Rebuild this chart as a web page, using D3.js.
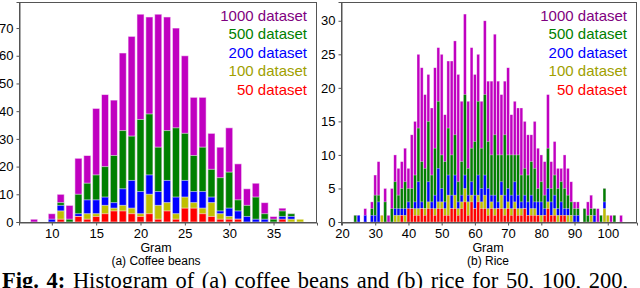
<!DOCTYPE html>
<html>
<head>
<meta charset="utf-8">
<script src="https://cdn.jsdelivr.net/npm/d3@7"></script>
<style>
  body { margin: 0; background: #fff; }
  svg { display: block; }
  text { font-family: "Liberation Sans", Arial, sans-serif; }
</style>
</head>
<body>
<div id="chart"></div>
<script>
// dataset names, drawn back to front (largest first)
var seriesNames = ["1000 dataset", "500 dataset", "200 dataset", "100 dataset", "50 dataset"];
var seriesFill = ["#c000c0", "#008000", "#0000ff", "#bfbf00", "#ff0000"];
var seriesText = ["#800080", "#008000", "#0000ff", "#a0a000", "#ff0000"];

// (a) coffee beans, gram bins 8..38
var coffeeGram = d3.range(8, 39);
var coffee1000 = [1, 0, 3, 10, 6, 23, 24, 41, 46, 44, 61, 67, 75, 74, 75, 74, 70, 60, 45, 45, 32, 27, 34, 21, 12, 14, 7, 2, 5, 3, 0];
var coffee500  = [0, 0, 0, 7, 1, 10, 14, 17, 20, 24, 33, 31, 37, 39, 27, 33, 34, 32, 24, 27, 19, 16, 18, 8, 6, 9, 3, 1, 4, 3, 0];
var coffee200  = [0, 0, 1, 6, 0, 3, 8, 8, 9, 7, 12, 15, 11, 17, 11, 15, 9, 15, 11, 11, 9, 4, 5, 4, 2, 1, 1, 0, 2, 2, 0];
var coffee100  = [0, 0, 0, 4, 0, 2, 3, 3, 6, 5, 6, 5, 3, 10, 6, 7, 3, 9, 7, 5, 7, 3, 2, 1, 0, 0, 0, 0, 0, 1, 1];
var coffee50   = [0, 0, 0, 1, 0, 2, 1, 2, 3, 4, 4, 3, 2, 3, 1, 4, 1, 5, 5, 3, 2, 1, 1, 1, 0, 0, 0, 0, 1, 0, 0];
var coffeeTicksX = [10, 15, 20, 25, 30, 35];
var coffeeTicksY = [0, 10, 20, 30, 40, 50, 60, 70];

// (b) rice, gram bins 24..104
var riceGram = d3.range(24, 105);
var rice1000 = [1, 1, 0, 2, 0, 3, 7, 9, 1, 5, 1, 5, 10, 8, 9, 11, 8, 13,
    15, 25, 23, 19, 22, 17, 23, 26, 25, 16, 24, 24, 27, 22, 18, 31, 18, 26, 22, 25,
    18, 30, 21, 21, 28, 21, 19, 21, 23, 16, 18, 17, 17, 15, 13, 13, 15, 11, 10, 9,
    19, 9, 12, 8, 8, 10, 8, 6, 3, 3, 0, 2, 3, 4, 2, 2, 1, 5, 1, 1, 1, 0, 1];
var rice500 = [1, 0, 0, 0, 0, 2, 4, 4, 0, 3, 0, 2, 6, 4, 5, 6, 5, 5,
    7, 14, 9, 8, 15, 7, 11, 18, 10, 9, 14, 10, 13, 6, 9, 19, 8, 11, 12, 18,
    11, 19, 12, 10, 13, 10, 10, 13, 10, 10, 10, 10, 7, 8, 7, 9, 8, 5, 6, 4,
    11, 5, 7, 5, 6, 5, 4, 3, 2, 2, 0, 2, 1, 2, 2, 0, 1, 5, 0, 0, 1, 0, 0];
var rice200 = [0, 1, 0, 1, 0, 1, 1, 3, 0, 0, 0, 0, 2, 2, 2, 2, 3, 2,
    3, 6, 3, 2, 6, 3, 4, 8, 5, 3, 7, 4, 7, 3, 4, 7, 4, 6, 4, 7,
    5, 7, 5, 4, 4, 3, 6, 4, 5, 4, 6, 4, 3, 4, 3, 4, 3, 3, 3, 2,
    5, 3, 4, 2, 3, 2, 2, 1, 1, 1, 0, 0, 0, 1, 1, 0, 0, 3, 0, 0, 0, 0, 0];
var rice100 = [0, 0, 0, 0, 0, 0, 0, 0, 1, 0, 0, 0, 1, 1, 1, 1, 0, 1,
    2, 2, 2, 2, 3, 1, 2, 3, 3, 2, 4, 2, 4, 2, 3, 5, 3, 4, 2, 4,
    3, 4, 2, 3, 2, 2, 4, 2, 3, 2, 3, 2, 2, 2, 1, 2, 2, 1, 1, 1,
    3, 1, 2, 1, 1, 1, 1, 1, 0, 0, 0, 0, 0, 1, 0, 0, 0, 2, 1, 0, 0, 0, 0];
var rice50 = [0, 0, 0, 0, 0, 0, 0, 0, 0, 0, 0, 0, 0, 0, 1, 0, 2, 2,
    1, 1, 2, 1, 2, 2, 1, 2, 2, 1, 1, 2, 2, 1, 2, 3, 1, 3, 2, 3,
    2, 2, 1, 2, 1, 2, 2, 1, 2, 1, 2, 1, 1, 2, 1, 1, 1, 1, 0, 1,
    2, 1, 1, 0, 1, 1, 0, 0, 0, 0, 0, 0, 0, 0, 0, 0, 0, 0, 0, 0, 0, 0, 0];
var riceTicksX = [20, 30, 40, 50, 60, 70, 80, 90, 100];
var riceTicksY = [0, 5, 10, 15, 20, 25, 30];

var svg = d3.select("#chart").append("svg")
    .attr("width", 640)
    .attr("height", 288);

function drawPanel(opt) {
    var x = d3.scaleLinear().domain(opt.xDomain).range([opt.left, opt.right]),
        y = d3.scaleLinear().domain(opt.yDomain).range([opt.bottom, opt.top]),
        step = x(1) - x(0),
        barW = step * opt.barFrac;

    var g = svg.append("g");

    // overlaid histograms, biggest dataset at the back
    opt.series.forEach(function (vals, i) {
        g.append("g")
            .selectAll("rect")
            .data(opt.grams.map(function (d, j) { return {gram: d, n: vals[j]}; })
                .filter(function (d) { return d.n > 0; }))
            .enter().append("rect")
            .attr("x", function (d) { return x(d.gram) - barW / 2; })
            .attr("width", barW)
            .attr("y", function (d) { return y(d.n); })
            .attr("height", function (d) { return y(0) - y(d.n); })
            .attr("fill", seriesFill[i])
            .attr("stroke", "#fff")
            .attr("stroke-opacity", 0.55)
            .attr("stroke-width", opt.edge);
    });

    // frame
    g.append("rect")
        .attr("x", opt.left + 0.5).attr("y", opt.top + 0.5)
        .attr("width", opt.right - opt.left - 1)
        .attr("height", opt.bottom - opt.top)
        .attr("fill", "none")
        .attr("stroke", "#555");

    var xAxis = g.append("g")
        .attr("transform", "translate(0," + (opt.bottom + 0.5) + ")")
        .call(d3.axisBottom(x).tickValues(opt.xTicks).tickSize(3).tickPadding(3.5));
    var yAxis = g.append("g")
        .attr("transform", "translate(" + (opt.left + 0.5) + ",0)")
        .call(d3.axisLeft(y).tickValues(opt.yTicks).tickSize(3).tickPadding(3));

    [xAxis, yAxis].forEach(function (ax) {
        ax.select(".domain").attr("stroke", "#555");
        ax.selectAll(".tick line").attr("stroke", "#555");
        ax.selectAll("text")
            .attr("fill", "#000")
            .style("font-size", "13px")
            .style("font-family", "'Liberation Sans', Arial, sans-serif");
    });

    // legend, right aligned in the top right corner
    seriesNames.forEach(function (name, i) {
        g.append("text")
            .attr("x", opt.legendX)
            .attr("y", 21 + i * 18.4)
            .attr("text-anchor", "end")
            .attr("fill", seriesText[i])
            .style("font-size", "15px")
            .text(name);
    });

    var mid = opt.labelX;
    g.append("text")
        .attr("x", mid).attr("y", 252)
        .attr("text-anchor", "middle")
        .style("font-size", "12.5px")
        .text("Gram");
    g.append("text")
        .attr("x", mid).attr("y", 265)
        .attr("text-anchor", "middle")
        .style("font-size", "12px")
        .text(opt.caption);
}

drawPanel({
    grams: coffeeGram,
    series: [coffee1000, coffee500, coffee200, coffee100, coffee50],
    xDomain: [6.3, 39.9], yDomain: [0, 79.4],
    left: 19, right: 317, top: 2, bottom: 222,
    barFrac: 0.8, edge: 1,
    xTicks: coffeeTicksX, yTicks: coffeeTicksY,
    legendX: 307, labelX: 156,
    caption: "(a) Coffee beans"
});

drawPanel({
    grams: riceGram,
    series: [rice1000, rice500, rice200, rice100, rice50],
    xDomain: [19.7, 108.8], yDomain: [0, 32.8],
    left: 341, right: 637, top: 2, bottom: 222,
    barFrac: 0.85, edge: 0.6,
    xTicks: riceTicksX, yTicks: riceTicksY,
    legendX: 627, labelX: 488,
    caption: "(b) Rice"
});

// figure caption (justified line in the paper), cut off by the page edge
var cap = svg.append("text")
    .attr("x", 2).attr("y", 287.5)
    .style("font-family", "'Liberation Serif', 'Times New Roman', serif")
    .style("font-size", "22.5px")
    .style("word-spacing", "2px");
cap.append("tspan").style("font-weight", "bold").text("Fig. 4:");
cap.append("tspan").text(" Histogram of (a) coffee beans and (b) rice for 50, 100, 200,");
</script>
</body>
</html>
